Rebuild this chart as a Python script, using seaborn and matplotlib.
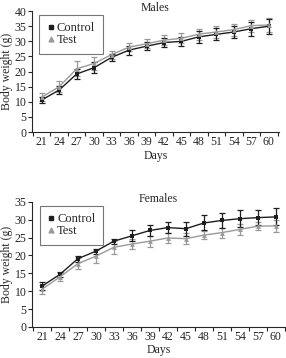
import numpy as np
import pandas as pd
import matplotlib
matplotlib.use("Agg")
import matplotlib.pyplot as plt
import seaborn as sns

# ------------------------------------------------------------
# Data
# ------------------------------------------------------------
days = [21, 24, 27, 30, 33, 36, 39, 42, 45, 48, 51, 54, 57, 60]

male_control = [10.6, 13.9, 19.2, 21.3, 24.7, 27.1, 28.4, 29.6, 30.0, 31.5, 32.3, 33.1, 34.2, 35.0]
male_control_err = [1.0, 1.2, 1.7, 1.9, 1.2, 1.5, 1.4, 1.5, 1.5, 1.9, 2.0, 2.1, 2.3, 2.5]
male_test = [11.5, 15.0, 20.9, 22.7, 25.6, 28.1, 29.2, 30.4, 31.0, 32.4, 33.1, 33.9, 35.2, 35.4]
male_test_err = [1.3, 1.9, 2.5, 2.2, 1.3, 1.4, 1.5, 1.6, 1.7, 1.8, 1.9, 2.0, 2.0, 2.3]

female_control = [11.4, 14.7, 19.1, 21.2, 24.0, 25.5, 27.0, 27.8, 27.5, 29.1, 29.8, 30.3, 30.6, 30.8]
female_control_err = [1.2, 0.7, 0.8, 0.7, 0.7, 1.5, 1.6, 1.5, 2.0, 2.1, 2.2, 2.4, 2.1, 2.4]
female_test = [10.5, 14.0, 17.7, 19.8, 22.3, 23.2, 24.0, 24.9, 24.7, 25.7, 26.4, 27.3, 28.2, 28.3]
female_test_err = [1.3, 1.2, 1.6, 1.8, 1.8, 1.3, 1.5, 1.5, 1.5, 1.2, 1.4, 1.5, 1.2, 1.6]

# ------------------------------------------------------------
# Style
# ------------------------------------------------------------
sns.set_style("ticks")
plt.rcParams["font.family"] = ["Liberation Serif", "DejaVu Serif"]
plt.rcParams["axes.linewidth"] = 0.8

dark = "#1e1e1e"
light = "#9a9a9a"
fs = 8.5

fig = plt.figure(figsize=(2.86, 3.58), dpi=100)
ax_m = fig.add_axes([0.112, 0.631, 0.863, 0.338])
ax_f = fig.add_axes([0.112, 0.087, 0.884, 0.349])


def draw(ax, control, control_err, test, test_err, title, ymax, xright):
    x = np.arange(len(days))
    df = pd.DataFrame({
        "x": np.concatenate([x, x]),
        "weight": control + test,
        "group": ["Control"] * len(days) + ["Test"] * len(days),
    })

    # error bars first, lines on top
    ax.errorbar(x, test, yerr=test_err, fmt="none", ecolor=light,
                elinewidth=0.9, capsize=2.2, capthick=0.9, zorder=2)
    ax.errorbar(x, control, yerr=control_err, fmt="none", ecolor=dark,
                elinewidth=0.9, capsize=2.2, capthick=0.9, zorder=3)

    sns.lineplot(
        data=df, x="x", y="weight", hue="group", style="group",
        palette={"Control": dark, "Test": light},
        markers={"Control": "s", "Test": "^"},
        dashes=False, markersize=3.5, linewidth=1.0,
        markeredgewidth=0, ax=ax, legend=False, zorder=4,
    )

    ax.set_xlim(-0.55, xright)
    ax.set_ylim(0, ymax)
    ax.set_yticks(np.arange(0, ymax + 1, 5))
    ax.set_xticks(x)
    ax.set_xticklabels([str(d) for d in days])
    ax.set_xticks(np.arange(-0.5, len(days), 1.0), minor=True)
    ax.tick_params(axis="x", which="major", length=0, pad=3, labelsize=fs)
    ax.tick_params(axis="x", which="minor", length=3, width=0.8, direction="out")
    ax.tick_params(axis="y", length=3, width=0.8, pad=1, labelsize=fs)

    ax.set_xlabel("Days", fontsize=fs, labelpad=1)
    ax.set_ylabel("Body weight (g)", fontsize=fs, labelpad=1)
    # title sits just above the top of the plot area
    ax.text(0.5, 1.025, title, transform=ax.transAxes, ha="center",
            va="center", fontsize=fs)
    sns.despine(ax=ax)

    handles = [
        plt.Line2D([], [], color=dark, marker="s", linestyle="none", markersize=3.5),
        plt.Line2D([], [], color=light, marker="^", linestyle="none", markersize=3.5),
    ]
    leg = ax.legend(handles, ["Control", "Test"], loc="upper left",
                    bbox_to_anchor=(0.02, 0.99), fontsize=fs + 0.5, frameon=True,
                    fancybox=False, handlelength=0.6, handletextpad=0.2,
                    borderpad=0.6, labelspacing=0.0, borderaxespad=0.2)
    leg.get_frame().set_edgecolor("#555555")
    leg.get_frame().set_linewidth(0.8)


draw(ax_m, male_control, male_control_err, male_test, male_test_err,
     "Males", 40, 13.57)
draw(ax_f, female_control, female_control_err, female_test, female_test_err,
     "Females", 35, 13.4)

fig.savefig("out.png", dpi=100)
